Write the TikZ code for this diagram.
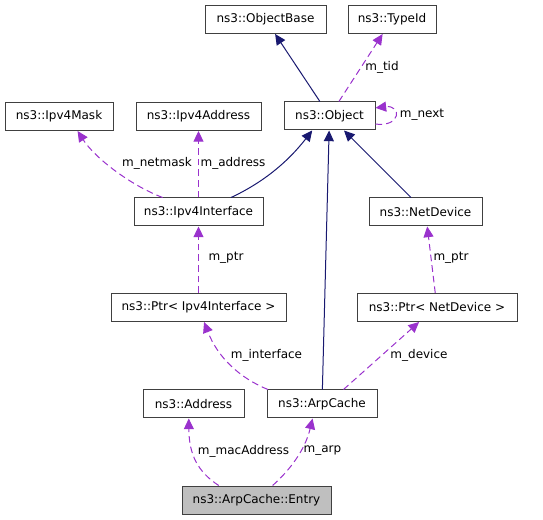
\documentclass[tikz,border=0pt]{standalone}
\usepackage{fontspec}
\newfontfamily\graphfont{DejaVu Sans}
\usetikzlibrary{arrows.meta}
\definecolor{edgeblue}{RGB}{25,25,112}
\definecolor{edgepurple}{RGB}{154,50,205}
\definecolor{boxline}{RGB}{64,64,64}
\definecolor{boxfill}{RGB}{191,191,191}
\tikzset{%
  class box/.style={draw=boxline, line width=0.75pt, fill=white, inner sep=0pt,
    minimum height=21pt, font=\graphfont\fontsize{9}{11}\selectfont},
  focus box/.style={class box, fill=boxfill},
  inherit/.style={draw=edgeblue, line width=0.75pt,
    -{Triangle[length=8pt,width=7.5pt]}},
  member/.style={draw=edgepurple, line width=0.75pt, dash pattern=on 5pt off 3pt,
    -{Triangle[length=8pt,width=7.5pt]}},
  member label/.style={font=\graphfont\fontsize{9}{11}\selectfont, inner sep=0pt},
}

\begin{document}
\begin{tikzpicture}[x=0.75pt,y=-0.75pt]
  \useasboundingbox (0,0) rectangle (543,520);
  % class boxes: name/x/y/width/text
  \foreach \name/\x/\y/\w/\txt in {%
      objbase/265.5/19.5/121/ns3::ObjectBase,
      typeid/392/19.5/88/ns3::TypeId,
      mask/59/116.5/108/ns3::Ipv4Mask,
      addrfour/198.5/116.5/125/ns3::Ipv4Address,
      object/329.5/116/91/ns3::Object,
      ipvfourif/198.5/212/129/ns3::Ipv4Interface,
      netdev/425.5/212/113/ns3::NetDevice,
      ptrif/198.5/307.5/175/ns3::Ptr< Ipv4Interface >,
      ptrnd/437/307.5/160/ns3::Ptr< NetDevice >,
      address/193.5/404/101/ns3::Address,
      arpcache/322/404/110/ns3::ArpCache} {
    \node[class box, minimum width=\w*0.75pt] (\name) at (\x,\y) {\txt};
  }
  \node[focus box, minimum width=149*0.75pt] (entry) at (256.5,500) {ns3::ArpCache::Entry};
  % inheritance
  \draw[inherit] (object) -- (objbase);
  \draw[inherit] (ipvfourif.24) .. controls (262,183) and (287,163) .. (object.220);
  \draw[inherit] (arpcache) -- (object);
  \draw[inherit] (netdev) -- (object);
  % members
  \draw[member] (object) -- (typeid)
    node[member label] (lbltid) at (382,67) {m\_tid};
  \draw[member] (object.-10) .. controls +(26,3) and +(26,-3) .. (object.10)
    node[member label] (lblnext) at (422,115) {m\_next};
  \draw[member] (ipvfourif.158.5) .. controls (130,185) and (95,158) .. (mask.-38.5)
    node[member label] (lblnetmask) at (157,163) {m\_netmask};
  \draw[member] (ipvfourif) -- (addrfour)
    node[member label] (lbladdress) at (233,163) {m\_address};
  \draw[member] (ptrif) -- (ipvfourif)
    node[member label] (lblptrif) at (226,258) {m\_ptr};
  \draw[member] (ptrnd) -- (netdev)
    node[member label] (lblptrnd) at (451,258) {m\_ptr};
  \draw[member] (arpcache.165) .. controls (240,378) and (218,358) .. (ptrif.-69)
    node[member label] (lblinterface) at (266.5,355) {m\_interface};
  \draw[member] (arpcache.34) -- (ptrnd.219)
    node[member label] (lbldevice) at (419,355) {m\_device};
  \draw[member] (entry.159.5) .. controls (198,472) and (189,455) .. (address.252)
    node[member label] (lblmac) at (243.5,451) {m\_macAddress};
  \draw[member] (entry.42) .. controls (290,470) and (305,450) .. (arpcache.237)
    node[member label] (lblarp) at (322.5,451) {m\_arp};
\end{tikzpicture}
\end{document}
